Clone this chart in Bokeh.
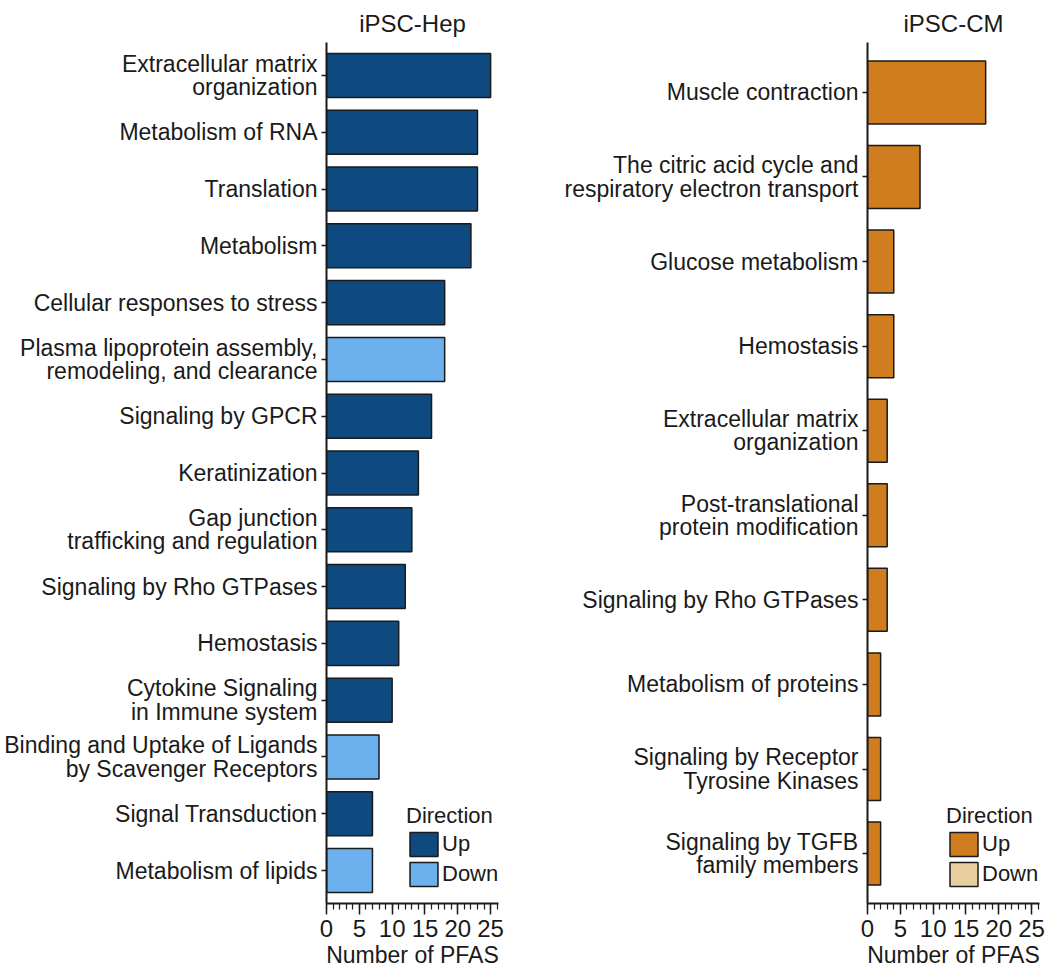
import math
from bokeh.plotting import figure
from bokeh.models import Range1d, FactorRange, Legend, LegendItem, ColumnDataSource, SingleIntervalTicker
from bokeh.layouts import row
from bokeh.embed import file_html
from bokeh.resources import INLINE

hep_title = "iPSC-Hep"
hep_pathways = [
    "Extracellular matrix\norganization",
    "Metabolism of RNA",
    "Translation",
    "Metabolism",
    "Cellular responses to stress",
    "Plasma lipoprotein assembly,\nremodeling, and clearance",
    "Signaling by GPCR",
    "Keratinization",
    "Gap junction\ntrafficking and regulation",
    "Signaling by Rho GTPases",
    "Hemostasis",
    "Cytokine Signaling\nin Immune system",
    "Binding and Uptake of Ligands\nby Scavenger Receptors",
    "Signal Transduction",
    "Metabolism of lipids",
]
hep_counts = [25, 23, 23, 22, 18, 18, 16, 14, 13, 12, 11, 10, 8, 7, 7]
hep_direction = ["Up", "Up", "Up", "Up", "Up", "Down", "Up", "Up", "Up", "Up",
                 "Up", "Up", "Down", "Up", "Down"]

cm_title = "iPSC-CM"
cm_pathways = [
    "Muscle contraction",
    "The citric acid cycle and\nrespiratory electron transport",
    "Glucose metabolism",
    "Hemostasis",
    "Extracellular matrix\norganization",
    "Post-translational\nprotein modification",
    "Signaling by Rho GTPases",
    "Metabolism of proteins",
    "Signaling by Receptor\nTyrosine Kinases",
    "Signaling by TGFB\nfamily members",
]
cm_counts = [18, 8, 4, 4, 3, 3, 3, 2, 2, 2]
cm_direction = ["Up", "Up", "Up", "Up", "Up", "Up", "Up", "Up", "Up", "Up"]

directions = ["Up", "Down"]
hep_colors = {"Up": "#0E4A80", "Down": "#6DB0EE"}
cm_colors = {"Up": "#D07D1F", "Down": "#E8CFA0"}

FONT = "Liberation Sans"
FS_LAB = "23px"
FS_BIG = "24px"
FS_LEG = "22px"
INK = "#1a1a1a"


def make_panel(title, pathways, counts, dirs, colors, width, min_left, min_right,
               bar_h, pad, legend_x, legend_y):
    factors = pathways[::-1]
    p = figure(
        y_range=FactorRange(factors=factors, range_padding=pad,
                            range_padding_units="absolute"),
        x_range=Range1d(0, 26.2),
        width=width, height=975,
        min_border_left=min_left, min_border_right=min_right,
        min_border_top=42, min_border_bottom=72,
        output_backend="svg", toolbar_location=None,
    )
    p.title.text = title
    p.title.align = "center"
    p.title.text_font = FONT
    p.title.text_font_size = FS_BIG
    p.title.text_font_style = "normal"
    p.title.text_color = INK
    p.title.standoff = 12

    items = []
    for d in directions:
        ys = [pw for pw, dd in zip(pathways, dirs) if dd == d]
        xs = [c for c, dd in zip(counts, dirs) if dd == d]
        if not ys:
            # legend-only entry: one undrawn (NaN) row so the swatch renders
            ys = [pathways[0]]
            xs = [math.nan]
        src = ColumnDataSource(dict(pathway=ys, count=xs))
        r = p.hbar(y="pathway", right="count", left=0, height=bar_h, source=src,
                   fill_color=colors[d], line_color=INK, line_width=1.5)
        items.append(LegendItem(label=d, renderers=[r]))

    legend = Legend(items=items, title="Direction", location=(legend_x, legend_y),
                    padding=0, margin=0, border_line_color=None,
                    background_fill_alpha=0, glyph_width=35, glyph_height=30,
                    label_height=30, spacing=0, label_standoff=1, title_standoff=0,
                    label_text_font=FONT, label_text_font_size=FS_LEG,
                    label_text_color=INK, title_text_font=FONT,
                    title_text_font_size=FS_LEG, title_text_font_style="normal",
                    title_text_color=INK)
    p.add_layout(legend, "center")

    p.xgrid.visible = False
    p.ygrid.visible = False
    p.outline_line_color = None

    xa = p.xaxis[0]
    xa.ticker = SingleIntervalTicker(interval=5, num_minor_ticks=5)
    xa.axis_label = "Number of PFAS"
    xa.axis_label_text_font = FONT
    xa.axis_label_text_font_size = FS_LAB
    xa.axis_label_text_font_style = "normal"
    xa.axis_label_text_color = INK
    xa.axis_label_standoff = 2
    xa.major_label_text_font = FONT
    xa.major_label_text_font_size = FS_BIG
    xa.major_label_text_color = INK
    xa.major_label_standoff = 5
    xa.major_tick_in = 0
    xa.major_tick_out = 11
    xa.minor_tick_in = 0
    xa.minor_tick_out = 6
    xa.axis_line_width = 2
    xa.axis_line_color = INK
    xa.major_tick_line_color = INK
    xa.minor_tick_line_color = INK
    xa.major_tick_line_width = 1.5
    xa.minor_tick_line_width = 1.2

    ya = p.yaxis[0]
    ya.major_label_text_font = FONT
    ya.major_label_text_font_size = FS_LAB
    ya.major_label_text_color = INK
    ya.major_label_text_line_height = 0.9
    ya.major_label_standoff = 4
    ya.major_tick_in = 0
    ya.major_tick_out = 5
    ya.major_tick_line_color = INK
    ya.major_tick_line_width = 1.5
    ya.axis_line_width = 2
    ya.axis_line_color = INK
    return p


p1 = make_panel(hep_title, hep_pathways, hep_counts, hep_direction, hep_colors,
                545, 326, 47, 0.775, 0.08, 80, 14)
p2 = make_panel(cm_title, cm_pathways, cm_counts, cm_direction, cm_colors,
                505, 322, 11, 0.745, 0.09, 79, 14)

layout = row(p1, p2)
open("out.html", "w").write(file_html(layout, INLINE))
